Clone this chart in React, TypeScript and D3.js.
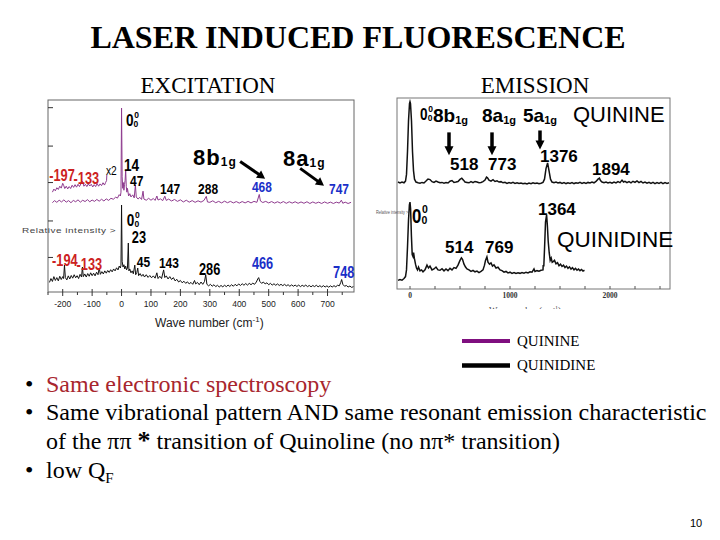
import * as d3 from 'd3';

// ---- excitation spectra (wavenumber cm-1, relative intensity 0-100 on the panel) ----
const EX_QUININE: [number, number][] = [
  [-235, 46.5], [-228, 47.6], [-220, 46.7], [-212, 47.8], [-204, 46.9], [-196, 48], [-188, 46.8], [-180, 47.6],
  [-172, 46.5], [-164, 47.7], [-156, 47], [-148, 48], [-140, 46.8], [-132, 47.8], [-124, 47.1], [-116, 48.1],
  [-108, 47], [-100, 47.9], [-92, 47.2], [-84, 48.2], [-76, 47.3], [-68, 48.3], [-60, 47.4], [-52, 48.5],
  [-44, 47.7], [-36, 48.8], [-28, 48.3], [-20, 49.4], [-14, 48.9], [-8, 50.7], [-4, 50], [-2, 52],
  [0, 95.8], [2, 60], [4, 54], [6, 57], [8, 53], [10, 56], [12, 58], [14, 63.5], [16, 55], [18, 52],
  [20, 54], [24, 50], [28, 51.2], [32, 49.5], [38, 50.6], [43, 49], [47, 55.7], [50, 49.5], [56, 48.4],
  [62, 49.3], [68, 48.2], [73, 52.5], [76, 48.4], [84, 47.8], [92, 48.8], [100, 47.8], [108, 48.7],
  [114, 47.7], [120, 50], [124, 47.9], [132, 48.5], [140, 47.6], [147, 49.9], [152, 47.7], [160, 48.4],
  [170, 47.4], [180, 48.2], [190, 47.2], [200, 48], [210, 46.9], [220, 47.8], [230, 46.8], [240, 47.6],
  [250, 46.7], [260, 47.5], [270, 46.8], [280, 47.7], [288, 49.8], [292, 46.9], [300, 46.7], [310, 47.5],
  [320, 46.5], [330, 47.2], [340, 46.4], [350, 47.3], [360, 46.5], [370, 47.2], [380, 46.4], [390, 47.1],
  [400, 46.3], [410, 47.1], [420, 46.4], [430, 47.2], [440, 46.4], [450, 47.2], [460, 46.7], [468, 50.8],
  [472, 47.4], [480, 46.6], [490, 47.2], [500, 46.4], [510, 47.1], [520, 46.3], [530, 47], [540, 46.3],
  [550, 47.1], [560, 46.2], [570, 47], [580, 46.3], [590, 47], [600, 46.2], [610, 46.9], [620, 46.2],
  [630, 47], [640, 46.1], [650, 46.9], [660, 46.2], [670, 46.8], [680, 46.1], [690, 46.9], [700, 46.2],
  [710, 46.8], [720, 46.1], [730, 46.8], [740, 46.3], [747, 47.8], [752, 46.2], [760, 46.8], [770, 46.1],
  [780, 46.7],
];

const EX_QUININE_X2: [number, number][] = [
  [-235, 52], [-230, 53.6], [-225, 52.7], [-220, 54.3], [-215, 53.4], [-210, 55.1], [-205, 54.1], [-200, 56.6],
  [-197, 55.6], [-193, 53.9], [-188, 55.1], [-183, 53.7], [-178, 54.9], [-173, 53.9], [-168, 55.6], [-163, 54.5],
  [-158, 55.9], [-153, 54.6], [-148, 56.1], [-143, 54.9], [-138, 56.4], [-133, 57.8], [-128, 55.1], [-123, 56.1],
  [-118, 54.9], [-113, 56.3], [-108, 55.2], [-103, 56.1], [-98, 54.7], [-93, 55.9], [-88, 54.9], [-83, 56.5],
  [-78, 55.1], [-73, 56.3], [-68, 55.4], [-63, 56.9], [-58, 55.7], [-54, 57.1], [-51, 58], [-50, 61],
];

const EX_QUINIDINE: [number, number][] = [
  [-245, 5], [-240, 7], [-235, 5.5], [-230, 8], [-225, 6], [-220, 7.5], [-215, 5.8], [-210, 8.2], [-205, 6.5],
  [-200, 8], [-197, 7], [-194, 14], [-191, 7.5], [-186, 6.3], [-181, 8.4], [-176, 6.8], [-171, 8.6], [-166, 7.2],
  [-161, 9], [-156, 7.4], [-151, 8.5], [-146, 7], [-141, 9.2], [-136, 7.8], [-133, 13], [-130, 8], [-125, 9.4],
  [-120, 7.8], [-115, 9.6], [-110, 8.2], [-105, 10], [-100, 8.5], [-95, 9.8], [-90, 8.4], [-85, 10.3], [-80, 9],
  [-76, 12.5], [-72, 9.2], [-67, 10.6], [-62, 9.4], [-57, 11], [-52, 9.8], [-47, 11.2], [-42, 10.2], [-37, 11.6],
  [-32, 10.5], [-27, 12], [-22, 11], [-17, 12.6], [-12, 11.5], [-8, 13.5], [-4, 12.5], [-2, 14], [0, 45.3],
  [2, 16], [5, 13], [8, 14.2], [11, 12], [14, 13.5], [17, 11.5], [20, 12.5], [23, 25.5], [25, 11], [28, 12],
  [32, 10], [36, 11], [40, 9.5], [45, 14], [48, 9], [52, 10.2], [55, 12.5], [58, 8.5], [63, 9.6], [68, 8.2],
  [73, 9.2], [78, 7.8], [84, 9], [90, 7.6], [96, 8.6], [102, 7.4], [108, 8.4], [114, 7.2], [120, 10], [124, 7],
  [130, 8.2], [136, 7], [143, 11.5], [147, 7.5], [152, 8.4], [158, 6.8], [164, 8], [170, 6.5], [176, 7.5],
  [182, 5.8], [188, 6.6], [194, 5.2], [200, 6], [206, 4.8], [212, 5.6], [218, 4.5], [224, 5.3], [230, 4.2],
  [236, 5], [242, 4], [248, 6], [252, 4.2], [258, 5], [264, 3.8], [270, 5.2], [276, 4], [282, 5.5], [286, 9],
  [290, 4], [296, 3.2], [302, 4], [308, 3], [314, 3.8], [320, 2.8], [326, 3.5], [332, 2.6], [338, 3.4],
  [344, 2.7], [350, 3.5], [356, 2.8], [362, 3.6], [368, 2.9], [374, 3.8], [380, 3], [386, 4], [392, 3.2],
  [398, 4.2], [404, 3.4], [410, 4.3], [416, 3.5], [422, 4.4], [428, 3.6], [434, 4.5], [440, 3.8], [446, 4.6],
  [452, 4], [458, 5.2], [463, 6.8], [466, 7.5], [470, 5.5], [476, 4.5], [482, 5.2], [488, 4.2], [494, 4.8],
  [500, 3.8], [506, 4.5], [512, 3.6], [518, 4.3], [524, 3.5], [530, 4.2], [536, 3.4], [542, 4], [548, 3.3],
  [554, 4], [560, 3.2], [566, 3.8], [572, 3], [578, 3.7], [584, 3], [590, 3.6], [596, 2.9], [602, 3.6],
  [608, 2.8], [614, 3.5], [620, 2.9], [626, 3.6], [632, 2.8], [638, 3.4], [644, 2.7], [650, 3.4], [656, 2.8],
  [662, 3.5], [668, 2.7], [674, 3.3], [680, 2.6], [686, 3.3], [692, 2.6], [698, 3.2], [704, 2.5], [710, 3.2],
  [716, 2.6], [722, 3.3], [728, 2.7], [734, 3.5], [740, 3.2], [745, 5], [748, 6.5], [752, 4], [758, 3],
  [764, 3.4], [770, 2.6], [776, 3.1], [782, 2.4], [788, 2.8],
];

// ---- emission spectra ----
const EM_QUININE: [number, number][] = [
  [-120, 56], [-100, 55.5], [-80, 56], [-60, 55.6], [-45, 56.5], [-35, 60], [-25, 72], [-15, 88], [-5, 97],
  [0, 98], [5, 97], [15, 88], [25, 72], [35, 62], [45, 57.5], [60, 56], [80, 55.6], [100, 55.4], [120, 55.8],
  [140, 55.5], [160, 56.5], [180, 57.6], [200, 57.3], [220, 56.2], [240, 55.8], [260, 56.5], [280, 56],
  [300, 55.6], [320, 55.8], [340, 55.4], [360, 55.7], [380, 55.5], [400, 56.4], [420, 56.8], [440, 55.8],
  [460, 56], [480, 56.3], [500, 57.4], [518, 58], [535, 57], [550, 56], [570, 55.8], [590, 55.6], [610, 56.2],
  [630, 55.7], [650, 56.3], [670, 56], [690, 55.6], [710, 55.8], [730, 56.2], [750, 57], [765, 58.6],
  [775, 58.2], [790, 57], [810, 56.5], [830, 57.2], [850, 56.3], [870, 56.6], [890, 56], [910, 56.2],
  [930, 55.6], [950, 55.9], [970, 55.3], [990, 55.7], [1010, 55.4], [1030, 55.8], [1050, 55.3], [1070, 55.6],
  [1090, 55.2], [1110, 55.5], [1130, 55.1], [1150, 55.4], [1170, 55], [1190, 55.5], [1210, 55.1], [1230, 55.6],
  [1250, 55.2], [1270, 55.5], [1290, 55.1], [1310, 55.4], [1330, 55.8], [1345, 57.5], [1360, 63], [1376, 66],
  [1390, 62], [1405, 57.5], [1420, 56], [1440, 55.6], [1460, 56], [1480, 55.5], [1500, 55.8], [1520, 55.3],
  [1540, 55.7], [1560, 55.2], [1580, 55.6], [1600, 55.3], [1620, 55.7], [1640, 55.2], [1660, 55.6], [1680, 55.4],
  [1700, 55.8], [1720, 55.3], [1740, 55.7], [1760, 55.3], [1780, 55.8], [1800, 55.5], [1820, 56], [1840, 55.6],
  [1860, 56.3], [1880, 57.5], [1894, 58], [1905, 56.8], [1920, 56], [1940, 55.6], [1960, 56], [1980, 55.5],
  [2000, 55.9], [2020, 55.4], [2040, 56], [2060, 55.5], [2080, 56.2], [2100, 55.7], [2120, 57], [2135, 56],
  [2150, 56.4], [2170, 55.7], [2190, 56.2], [2210, 55.6], [2230, 56.4], [2250, 55.8], [2270, 56.6], [2290, 55.7],
  [2310, 56.3], [2330, 55.5], [2350, 56], [2370, 55.4], [2390, 55.9], [2410, 55.3], [2430, 55.8], [2450, 55.2],
  [2470, 55.7], [2490, 55.3], [2510, 55.8], [2530, 55.2], [2550, 55.7], [2570, 55.3], [2590, 55.6],
];

const EM_QUINIDINE: [number, number][] = [
  [-120, 4.5], [-100, 5], [-80, 4.6], [-60, 5.5], [-45, 6.5], [-35, 10], [-25, 22], [-15, 36], [-6, 44],
  [0, 45.5], [6, 42], [14, 28], [22, 18], [30, 17], [36, 19], [44, 16], [55, 13], [65, 11], [75, 10],
  [85, 11.5], [100, 9.5], [115, 10], [130, 9], [150, 10], [170, 12.5], [185, 11], [200, 12], [220, 10],
  [240, 10.5], [260, 11.5], [280, 10], [300, 9.8], [320, 10.6], [340, 9.5], [360, 10.5], [380, 9.6],
  [400, 10.8], [420, 10], [440, 11.2], [460, 10.8], [480, 12.5], [500, 15], [514, 16.3], [525, 15.5],
  [540, 13], [555, 11.5], [570, 10.5], [590, 10], [610, 9.2], [630, 9.8], [650, 9], [670, 9.4], [690, 8.6],
  [710, 9.2], [730, 10], [745, 12.5], [755, 15], [769, 16.8], [780, 14], [795, 13], [810, 13.6], [825, 12],
  [840, 12.6], [860, 11], [880, 11.4], [900, 10], [920, 9.6], [940, 8.8], [960, 9.2], [980, 8.4], [1000, 8.8],
  [1020, 8.2], [1040, 8.6], [1060, 8.1], [1080, 8.5], [1100, 8.2], [1120, 8.6], [1140, 8.3], [1160, 8.8],
  [1180, 8.4], [1200, 9], [1220, 8.8], [1240, 10.5], [1250, 9.2], [1270, 9.6], [1290, 9.3], [1310, 9.8],
  [1330, 10], [1332, 12.5], [1338, 11.8], [1346, 22], [1355, 35], [1366, 38.8], [1374, 33], [1382, 25],
  [1392, 19], [1402, 15], [1412, 16.2], [1422, 14], [1435, 14.5], [1445, 15], [1460, 13.2], [1475, 13.8],
  [1490, 12.2], [1505, 13], [1520, 11.8], [1535, 12.5], [1550, 11.2], [1565, 12], [1580, 10.8], [1595, 11.6],
  [1610, 10.4], [1625, 11.2], [1640, 10], [1655, 10.8], [1670, 9.8], [1685, 10.5], [1700, 9.6], [1715, 10.2],
  [1730, 9.4], [1745, 9.8],
];

const EX_TICKS = [-200, -100, 0, 100, 200, 300, 400, 500, 600, 700];
const EX_MINOR = [-250, -150, -50, 50, 150, 250, 350, 450, 550, 650, 750];
const EX_Y_TICKS = [18, 37, 57, 76, 96];
const EM_TICKS = [0, 1000, 2000];
const EM_MINOR = [250, 500, 750, 1250, 1500, 1750, 2250, 2500];

const RED = '#cc2222';
const BLUE = '#1a2fc8';

// peak labels: [text, wavenumber at left edge, intensity at baseline, colour, size]
const EX_LABELS: [string, number, number, string, number][] = [
  ['-197', -246, 58, RED, 16], ['-133', -163, 56.3, RED, 16], ['14', 8, 63, '#000', 17],
  ['47', 29, 55.2, '#000', 15], ['147', 131, 51, '#000', 15], ['288', 260, 51, '#000', 15],
  ['468', 443, 52, BLUE, 15], ['747', 705, 51, BLUE, 15],
  ['-194', -236, 13.3, RED, 16], ['-133', -153, 11.5, RED, 16], ['23', 35, 25.5, '#000', 16],
  ['45', 52, 13, '#000', 15], ['143', 127, 12.5, '#000', 15], ['286', 263, 8.6, '#000', 16],
  ['466', 443, 12, BLUE, 16], ['748', 719, 7.3, BLUE, 16],
];
const EM_LABELS: [string, number, number][] = [
  ['518', 400, 62.3], ['773', 780, 62.3], ['1376', 1300, 66.5], ['1894', 1820, 59.7],
  ['1364', 1280, 38.7], ['514', 350, 18.8], ['769', 750, 18.8],
];
// mode labels: [main, sub, wavenumber, intensity]
const EX_MODES: [string, string, number, number][] = [['8b', '1g', 243, 66], ['8a', '1g', 549, 65.6]];
const EM_MODES: [string, string, number, number][] = [['8b', '1g', 230, 87.4], ['8a', '1g', 720, 87.4], ['5a', '1g', 1130, 87.4]];
// arrows: [wn1, v1, wn2, v2]
const EX_ARROWS: [number, number, number, number][] = [[403, 68, 488, 59], [607, 64.4, 688, 55.4]];
const EM_ARROWS: [number, number, number, number][] = [[390, 82, 390, 70], [820, 82, 820, 70], [1300, 83, 1300, 73]];

const SANS = "'Liberation Sans', Arial, sans-serif";
const SERIF = "'Liberation Serif', 'Times New Roman', serif";

function Origin({ x, y, size }: { x: number; y: number; size: number }) {
  return (
    <g fontFamily={SANS} fontWeight="bold" fill="#000">
      <text x={x} y={y} fontSize={size} transform={`translate(${x},${y}) scale(0.8,1) translate(${-x},${-y})`}>0</text>
      <text x={x + size * 0.48} y={y - size * 0.48} fontSize={size * 0.5}>0</text>
      <text x={x + size * 0.45} y={y + 1} fontSize={size * 0.5}>0</text>
    </g>
  );
}

export default function App() {
  const xEx = d3.scaleLinear().domain([-250, 790]).range([48, 354]);
  const yEx = d3.scaleLinear().domain([0, 100]).range([292, 100]);
  const xEm = d3.scaleLinear().domain([-130, 2600]).range([397, 670]);
  const yEm = d3.scaleLinear().domain([0, 100]).range([289, 98]);
  const lineEx = d3.line<[number, number]>().x((d) => xEx(d[0])).y((d) => yEx(d[1]));
  const lineEm = d3.line<[number, number]>().x((d) => xEm(d[0])).y((d) => yEm(d[1]));
  const PURPLE = '#8e3a8e';

  const arrowHead = (x1: number, y1: number, x2: number, y2: number, len: number, w: number) => {
    const a = Math.atan2(y2 - y1, x2 - x1);
    const bx = x2 - len * Math.cos(a);
    const by = y2 - len * Math.sin(a);
    const px = -Math.sin(a) * w;
    const py = Math.cos(a) * w;
    return `M${x2},${y2}L${bx + px},${by + py}L${bx - px},${by - py}Z`;
  };

  return (
    <svg width={720} height={540} style={{ position: 'absolute', left: 0, top: 0, background: '#fff' }}>
      <defs>
        <clipPath id="emclip"><rect x={380} y={290} width={300} height={19} /></clipPath>
      </defs>
      <rect width={720} height={540} fill="#fff" />
      {/* titles */}
      <text x={358} y={48} textAnchor="middle" fontFamily={SERIF} fontWeight="bold" fontSize={32}>LASER INDUCED FLUORESCENCE</text>
      <text x={208} y={93} textAnchor="middle" fontFamily={SERIF} fontSize={23}>EXCITATION</text>
      <text x={535} y={93} textAnchor="middle" fontFamily={SERIF} fontSize={23}>EMISSION</text>

      {/* ---- excitation panel ---- */}
      <rect x={48} y={100} width={306} height={192} fill="none" stroke="#666" strokeWidth={1} />
      {EX_Y_TICKS.map((t) => (
        <line key={t} x1={48} x2={53} y1={yEx(t)} y2={yEx(t)} stroke="#333" />
      ))}
      {EX_TICKS.map((t) => (
        <g key={t}>
          <line x1={xEx(t)} x2={xEx(t)} y1={289} y2={296} stroke="#333" />
          <text x={xEx(t)} y={307} textAnchor="middle" fontFamily={SANS} fontSize={9.5} fill="#222"
            transform={`translate(${xEx(t)},307) scale(0.9,1) translate(${-xEx(t)},-307)`}>{t}</text>
        </g>
      ))}
      {EX_MINOR.map((t) => (
        <line key={t} x1={xEx(t)} x2={xEx(t)} y1={292} y2={295} stroke="#333" />
      ))}
      <text x={155} y={327} fontFamily={SANS} fontSize={12} fill="#222">
        Wave number (cm<tspan dy={-5} fontSize={8}>-1</tspan><tspan dy={5}>)</tspan>
      </text>
      <text x={22} y={233} fontFamily={SANS} fontSize={10} fill="#444" letterSpacing={0.5}
        transform="translate(22,233) scale(1,0.65) translate(-22,-233)">Relative intensity &gt;</text>

      <path d={lineEx(EX_QUININE_X2) ?? ''} fill="none" stroke={PURPLE} strokeWidth={1} />
      <path d={lineEx(EX_QUININE) ?? ''} fill="none" stroke={PURPLE} strokeWidth={1} />
      <path d={lineEx(EX_QUINIDINE) ?? ''} fill="none" stroke="#111" strokeWidth={1} />

      {EX_LABELS.map(([t, wn, v, c, s], i) => {
        const x = xEx(wn);
        const y = yEx(v);
        return (
          <text key={i} x={x} y={y} fontFamily={SANS} fontWeight="bold" fontSize={s} fill={c}
            transform={`translate(${x},${y}) scale(0.8,1) translate(${-x},${-y})`}>{t}</text>
        );
      })}
      <text x={xEx(-53)} y={yEx(60.9)} fontFamily={SANS} fontSize={12} fill="#000"
        transform={`translate(${xEx(-53)},${yEx(60.9)}) scale(0.85,1) translate(${-xEx(-53)},${-yEx(60.9)})`}>x2</text>
      <Origin x={xEx(15)} y={yEx(86.5)} size={17} />
      <Origin x={xEx(18)} y={yEx(34.4)} size={17} />
      {EX_MODES.map(([m, s, wn, v]) => (
        <text key={m} x={xEx(wn)} y={yEx(v)} fontFamily={SANS} fontWeight="bold" fontSize={22} letterSpacing={1}>
          {m}<tspan fontSize={12} dy={1}>{s}</tspan>
        </text>
      ))}
      {EX_ARROWS.map(([a, b, c, d], i) => {
        const x1 = xEx(a), y1 = yEx(b), x2 = xEx(c), y2 = yEx(d);
        const a2 = Math.atan2(y2 - y1, x2 - x1);
        return (
          <g key={i}>
            <line x1={x1} y1={y1} x2={x2 - 6 * Math.cos(a2)} y2={y2 - 6 * Math.sin(a2)} stroke="#000" strokeWidth={3} />
            <path d={arrowHead(x1, y1, x2, y2, 8, 4.5)} fill="#000" />
          </g>
        );
      })}

      {/* ---- emission panel ---- */}
      <rect x={397} y={98} width={273} height={191} fill="none" stroke="#777" strokeWidth={1} />
      {EM_MINOR.concat(EM_TICKS).map((t) => (
        <line key={t} x1={xEm(t)} x2={xEm(t)} y1={289} y2={286} stroke="#555" />
      ))}
      {EM_TICKS.map((t) => (
        <text key={t} x={xEm(t)} y={298} textAnchor="middle" fontFamily={SERIF} fontWeight="bold" fontSize={7.5} fill="#333">{t}</text>
      ))}
      <text x={525} y={313} textAnchor="middle" fontFamily={SERIF} fontSize={9} fill="#444" clipPath="url(#emclip)">
        Wavenumber (cm<tspan dy={-3} fontSize={6}>-1</tspan><tspan dy={3}>)</tspan>
      </text>
      <text x={376} y={214} fontFamily={SANS} fontSize={7} fill="#555"
        transform="translate(376,214) scale(0.55,0.7) translate(-376,-214)">Relative intensity &gt;</text>

      <path d={lineEm(EM_QUININE) ?? ''} fill="none" stroke="#111" strokeWidth={1.5} />
      <path d={lineEm(EM_QUINIDINE) ?? ''} fill="none" stroke="#111" strokeWidth={1.5} />

      {EM_LABELS.map(([t, wn, v], i) => (
        <text key={i} x={xEm(wn)} y={yEm(v)} fontFamily={SANS} fontWeight="bold" fontSize={17} fill="#000">{t}</text>
      ))}
      {EM_MODES.map(([m, s, wn, v]) => (
        <text key={m} x={xEm(wn)} y={yEm(v)} fontFamily={SANS} fontWeight="bold" fontSize={19}>
          {m}<tspan fontSize={11} dy={2}>{s}</tspan>
        </text>
      ))}
      {EM_ARROWS.map(([a, b, c, d], i) => {
        const x1 = xEm(a), y1 = yEm(b), x2 = xEm(c), y2 = yEm(d);
        return (
          <g key={i}>
            <line x1={x1} y1={y1} x2={x2} y2={y2 - 6} stroke="#000" strokeWidth={3.5} />
            <path d={arrowHead(x1, y1, x2, y2, 9, 4.5)} fill="#000" />
          </g>
        );
      })}
      <Origin x={xEm(100)} y={yEm(88.5)} size={17} />
      <Origin x={xEm(20)} y={yEm(34.6)} size={21} />
      <text x={xEm(1630)} y={yEm(87.4)} fontFamily={SANS} fontSize={22}>QUININE</text>
      <text x={xEm(1470)} y={yEm(22)} fontFamily={SANS} fontSize={22.5}>QUINIDINE</text>

      {/* legend */}
      <line x1={462} x2={510} y1={341} y2={341} stroke="#7f0f7f" strokeWidth={4} />
      <line x1={462} x2={510} y1={365.5} y2={365.5} stroke="#000" strokeWidth={4.5} />
      <text x={517} y={346} fontFamily={SERIF} fontSize={15}>QUININE</text>
      <text x={517} y={370} fontFamily={SERIF} fontSize={15}>QUINIDINE</text>

      {/* bullets */}
      <g fontFamily={SERIF} fontSize={24}>
        <text x={25} y={392}>•</text>
        <text x={46} y={392} fill="#a8262e">Same electronic spectroscopy</text>
        <text x={25} y={420}>•</text>
        <text x={46} y={420}>Same vibrational pattern AND same resonant emission characteristic</text>
        <text x={46} y={449}>of the ππ <tspan fontWeight="bold" fontSize={26}>*</tspan> transition of Quinoline (no nπ* transition)</text>
        <text x={25} y={478}>•</text>
        <text x={46} y={478}>low Q<tspan fontSize={15} dy={5}>F</tspan></text>
      </g>
      <text x={690} y={527} fontFamily={SANS} fontSize={11}>10</text>
    </svg>
  );
}
